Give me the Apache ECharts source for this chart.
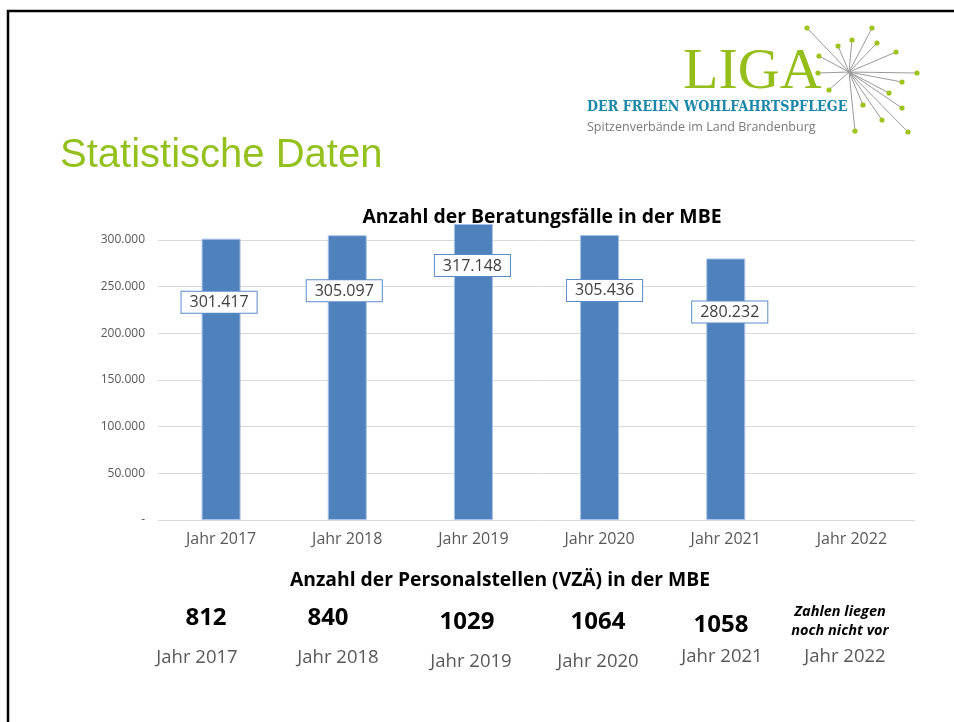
<html>
<head>
    <meta charset="utf-8">
    <title>Statistische Daten</title>
    <script src="https://cdn.jsdelivr.net/npm/echarts@6/dist/echarts.min.js"></script>
    <style>
        html, body { margin: 0; padding: 0; width: 954px; height: 722px; background: #fff; }
        #main { width: 954px; height: 722px; }
    </style>
</head>
<body>
<div id="main"></div>
<script type="text/javascript">
    // Daten
    var years = ['Jahr 2017', 'Jahr 2018', 'Jahr 2019', 'Jahr 2020', 'Jahr 2021', 'Jahr 2022'];
    var cases = [301417, 305097, 317148, 305436, 280232, null];
    var staff = [812, 840, 1029, 1064, 1058, null];
    var yTicks = [0, 50000, 100000, 150000, 200000, 250000, 300000];

    // Lage der Beschriftungen (wie im Original frei verschoben)
    var labelShift = [[-2, 53], [-3, 45], [-1, 31], [5, 45], [4, 43], [0, 0]];
    var staffPos = [[206, 618], [328, 618], [467, 622], [598, 622], [721, 625]];
    var yearPos = [[197, 658], [338, 658], [471, 662], [598, 662], [722, 657], [845, 657]];

    var font = '"Open Sans", "DejaVu Sans", sans-serif';
    var blue = '#4F81BD';

    function fmt(v) {
        if (v === 0) return '-';
        return String(v).replace(/\B(?=(\d{3})+(?!\d))/g, '.');
    }

    var myChart = echarts.init(document.getElementById('main'));

    var barData = cases.map(function (v, i) {
        return {
            value: v,
            label: { offset: labelShift[i] }
        };
    });

    // Logo-Stern
    var starC = [849, 72];
    var starDots = [[807, 28], [872, 28], [852, 40], [838, 46], [877, 43], [819, 56], [896, 52],
        [818, 73], [917, 73], [902, 82], [829, 90], [889, 93], [863, 105], [902, 108],
        [882, 120], [855, 131], [908, 132]];
    var graphics = [];
    starDots.forEach(function (d) {
        graphics.push({ type: 'line', shape: { x1: starC[0], y1: starC[1], x2: d[0], y2: d[1] },
            style: { stroke: '#9a9a9a', lineWidth: 1 }, z: 1 });
    });
    starDots.forEach(function (d) {
        graphics.push({ type: 'circle', shape: { cx: d[0], cy: d[1], r: 2.6 },
            style: { fill: '#9DC31C' }, z: 2 });
    });

    graphics.push(
        // Rahmen
        { type: 'polyline', shape: { points: [[8, 722], [8, 11], [954, 11]] },
          style: { stroke: '#000', lineWidth: 2.5, fill: null } },
        { type: 'text', left: 683, top: 44, style: { text: 'LIGA', font: '58px "Liberation Serif", serif',
            fill: '#95BE1A' }, z: 3 },
        { type: 'text', x: 587, y: 100, scaleX: 0.91, originX: 0, style: { text: 'DER FREIEN WOHLFAHRTSPFLEGE',
            font: 'bold 14px "DejaVu Serif", serif', fill: '#1B87A8' }, z: 3 },
        { type: 'text', left: 587, top: 121, style: { text: 'Spitzenverbände im Land Brandenburg',
            font: '12.5px ' + font, fill: '#7a7a7a' }, z: 3 },
        { type: 'text', left: 60, top: 136, style: { text: 'Statistische Daten',
            font: '40px "Liberation Sans", Arial, sans-serif', fill: '#95C11F' } },
        { type: 'text', x: 542, y: 217, style: { text: 'Anzahl der Beratungsfälle in der MBE',
            font: 'bold 19.4px ' + font, fill: '#000', align: 'center', verticalAlign: 'middle' }, z: 10 },
        { type: 'text', x: 500, y: 581, style: { text: 'Anzahl der Personalstellen (VZÄ) in der MBE',
            font: 'bold 19.3px ' + font, fill: '#000', align: 'center', verticalAlign: 'middle' } },
        { type: 'text', x: 840, y: 621, style: { text: 'Zahlen liegen\nnoch nicht vor', lineHeight: 19,
            font: 'italic bold 14.5px ' + font, fill: '#000', align: 'center', verticalAlign: 'middle' } }
    );

    staff.forEach(function (v, i) {
        if (v == null) return;
        graphics.push({ type: 'text', x: staffPos[i][0], y: staffPos[i][1],
            style: { text: String(v), font: 'bold 24px ' + font, fill: '#000',
                align: 'center', verticalAlign: 'middle' } });
    });
    years.forEach(function (y, i) {
        graphics.push({ type: 'text', x: yearPos[i][0], y: yearPos[i][1],
            style: { text: y, font: '18.5px ' + font, fill: '#595959',
                align: 'center', verticalAlign: 'middle' } });
    });

    var option = {
        animation: false,
        grid: { left: 158, right: 39, top: 240, bottom: 202 },
        xAxis: {
            type: 'category',
            data: years,
            axisLine: { show: false },
            axisTick: { show: false },
            axisLabel: { color: '#595959', fontSize: 16, fontFamily: font, margin: 11 }
        },
        yAxis: {
            type: 'value',
            min: yTicks[0],
            max: yTicks[yTicks.length - 1],
            interval: yTicks[1] - yTicks[0],
            axisLine: { show: false },
            axisTick: { show: false },
            splitLine: { lineStyle: { color: '#D9D9D9', width: 1 } },
            axisLabel: { color: '#595959', fontSize: 12, fontFamily: font, margin: 13,
                formatter: fmt }
        },
        series: [{
            type: 'bar',
            data: barData,
            barWidth: 39,
            clip: false,
            itemStyle: { color: blue, borderColor: '#A7C2E6', borderWidth: 1 },
            label: {
                show: true,
                position: 'insideTop',
                distance: 0,
                formatter: function (p) { return fmt(p.value); },
                color: '#404040',
                fontSize: 16,
                fontFamily: font,
                backgroundColor: '#fff',
                borderColor: '#5B8CC8',
                borderWidth: 1,
                padding: [3, 8, 2, 8],
                verticalAlign: 'top'
            }
        }],
        graphic: graphics
    };
    myChart.setOption(option);
</script>
</body>
</html>
